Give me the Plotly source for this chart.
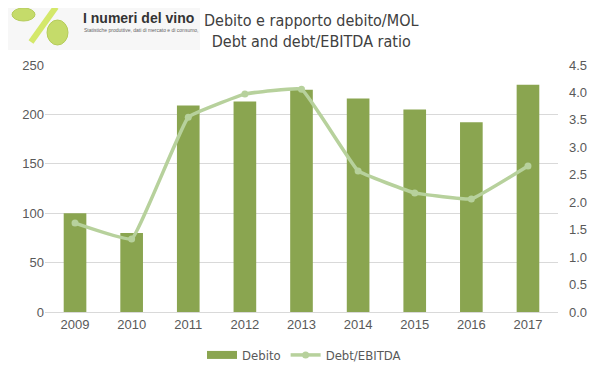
import plotly.graph_objects as go

years = ["2009", "2010", "2011", "2012", "2013", "2014", "2015", "2016", "2017"]
debito = [100, 80, 209, 213, 225, 216, 205, 192, 230]
debt_ebitda = [1.62, 1.33, 3.55, 3.97, 4.06, 2.57, 2.17, 2.06, 2.66]
left_ticks = [0, 50, 100, 150, 200, 250]
right_ticks = [0.0, 0.5, 1.0, 1.5, 2.0, 2.5, 3.0, 3.5, 4.0, 4.5]

BAR = "#8AA550"
LINE = "#B7D19C"
TXT = "#595959"
NARROW = "DejaVu Sans Condensed, Liberation Sans Narrow, Arial Narrow, sans-serif"

# the page body adds an 8px offset; plot area in screen coords: x 45..558, y 65..312
OFF = 8

fig = go.Figure()
fig.add_trace(go.Bar(x=years, y=debito, name="Debito", marker=dict(color=BAR, line=dict(width=0)),
                     yaxis="y", showlegend=False, legendgroup="deb"))
# legend entry with a wide flat swatch, like the original
fig.add_trace(go.Scatter(x=[None], y=[None], name="Debito", mode="lines", legendgroup="deb",
                         line=dict(color=BAR, width=8), hoverinfo="skip"))
fig.add_trace(go.Scatter(x=years, y=debt_ebitda, name="Debt/EBITDA", yaxis="y2",
                         mode="lines+markers",
                         line=dict(color=LINE, width=3.5, shape="spline", smoothing=0.25),
                         marker=dict(color=LINE, size=7)))

W, H = 599 - OFF, 378 - OFF
fig.update_layout(
    width=W, height=H,
    margin=dict(l=45 - OFF, r=W - (558 - OFF), t=65 - OFF, b=H - (312 - OFF), autoexpand=False),
    paper_bgcolor="white", plot_bgcolor="white",
    font=dict(family="Liberation Sans, Arial, sans-serif", size=13, color=TXT),
    bargap=0.6,
    showlegend=True,
    legend=dict(orientation="h", x=(202 - 45) / 513, xanchor="left", y=-0.174, yanchor="middle",
                font=dict(family=NARROW, size=13, color=TXT),
                itemwidth=30, traceorder="normal"),
    xaxis=dict(showgrid=False, zeroline=False, showline=True, linecolor="#D9D9D9",
               ticks="", tickfont=dict(size=13, color=TXT), automargin=False),
    yaxis=dict(range=[0, 250], tickvals=left_ticks, showgrid=True, gridcolor="#D9D9D9",
               gridwidth=1, zeroline=False, showline=False, ticks="", automargin=False,
               tickfont=dict(size=13, color=TXT)),
    yaxis2=dict(range=[0, 4.5], tickvals=right_ticks, ticktext=[f"{v:.1f}" for v in right_ticks],
                overlaying="y", side="right", showgrid=False, zeroline=False, automargin=False,
                showline=False, ticks="", ticklabelstandoff=10, tickfont=dict(size=13, color=TXT)),
)

def px(x):
    return (x - 45) / 513
def py(y):
    return (312 - y) / 247

# Title
fig.add_annotation(text="Debito e rapporto debito/MOL<br>Debt and debt/EBITDA ratio",
                   xref="paper", yref="paper", x=px(311), y=py(31),
                   xanchor="center", yanchor="middle", showarrow=False, align="center",
                   font=dict(family=NARROW, size=16, color="#404040"))

# Logo (decorative)
fig.add_shape(type="rect", xref="paper", yref="paper",
              x0=px(OFF), x1=px(200), y0=py(50), y1=py(OFF),
              fillcolor="#F7F7F7", line=dict(width=0), layer="below")
fig.add_shape(type="line", xref="paper", yref="paper", x0=px(31), y0=py(42), x1=px(56), y1=py(3 + OFF // 2),
              line=dict(color="#D4E86A", width=6))
fig.add_shape(type="circle", xref="paper", yref="paper", x0=px(12), x1=px(35), y0=py(21), y1=py(OFF),
              fillcolor="#C5DB6A", line=dict(color="#B5CC5A", width=1))
fig.add_shape(type="circle", xref="paper", yref="paper", x0=px(47), x1=px(68), y0=py(45), y1=py(20),
              fillcolor="#C5DB6A", line=dict(color="#B5CC5A", width=1))
fig.add_annotation(text="<b>I numeri del vino</b>", xref="paper", yref="paper",
                   x=px(81), y=py(18), xanchor="left", yanchor="middle", showarrow=False,
                   font=dict(family="Liberation Sans, Arial", size=14, color="#333333"))
fig.add_annotation(text="Statistiche produttive, dati di mercato e di consumo,", xref="paper", yref="paper",
                   x=px(82), y=py(30), xanchor="left", yanchor="middle", showarrow=False,
                   font=dict(family="Liberation Sans, Arial", size=5, color="#666666"))

fig.write_html("out.html")
